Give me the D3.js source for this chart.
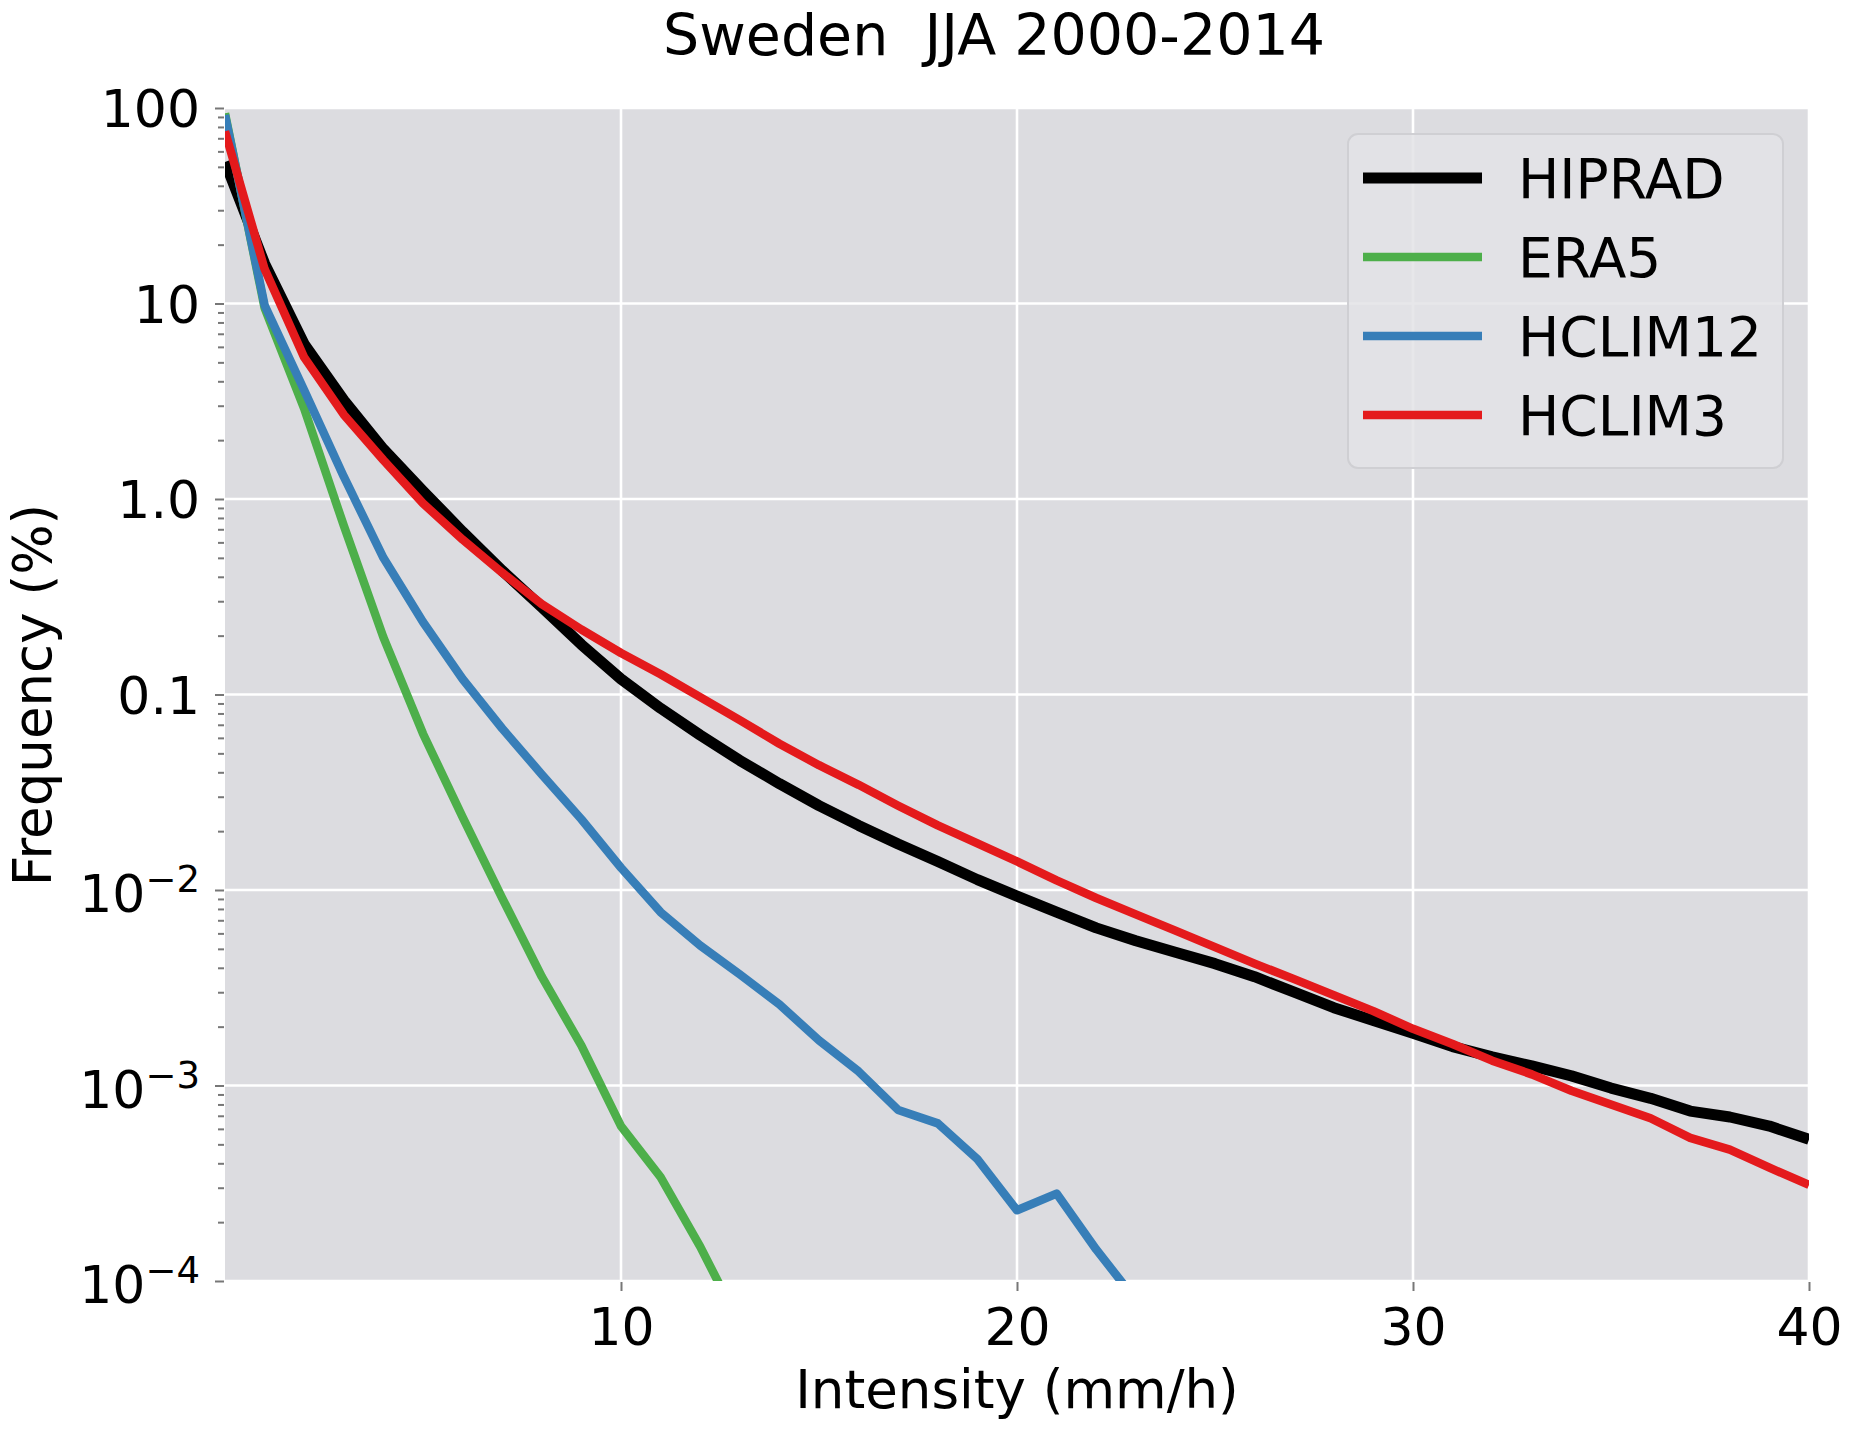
<!DOCTYPE html>
<html>
<head>
<meta charset="utf-8">
<script src="https://cdn.jsdelivr.net/npm/d3@7"></script>
<style>
  body { margin: 0; background: #fff; }
  svg { display: block; font-family: "DejaVu Sans", sans-serif; }
</style>
</head>
<body>
<svg id="chart" width="1850" height="1430"></svg>
<script>
// data (frequency in %, per 1 mm/h bin)
const intensity = [0, 1, 2, 3, 4, 5, 6, 7, 8, 9, 10, 11, 12, 13, 14, 15, 16, 17, 18, 19, 20,
  21, 22, 23, 24, 25, 26, 27, 28, 29, 30, 31, 32, 33, 34, 35, 36, 37, 38, 39, 40];

const hiprad = [53, 16, 6.2, 3.2, 1.8, 1.1, 0.68, 0.43, 0.28, 0.18, 0.12, 0.085, 0.062, 0.046,
  0.035, 0.027, 0.0214, 0.0172, 0.014, 0.0113, 0.0093, 0.0077, 0.0064, 0.0055, 0.0048, 0.0042,
  0.0036, 0.0030, 0.0025, 0.00215, 0.00185, 0.00158, 0.0014, 0.00126, 0.00112, 0.00097, 0.00086,
  0.00074, 0.00069, 0.00062, 0.00053];

const era5 = [94, 9.5, 2.9, 0.73, 0.196, 0.063, 0.0236, 0.0091, 0.0036, 0.0016, 0.00062,
  0.00034, 0.00015, 0.00006];

const hclim12 = [92, 9.8, 3.6, 1.3, 0.5, 0.235, 0.12, 0.067, 0.039, 0.023, 0.013, 0.0077,
  0.0052, 0.0037, 0.0026, 0.0017, 0.00118, 0.00075, 0.00064, 0.00042, 0.00023, 0.00028,
  0.000145, 0.00008];

const hclim3 = [76, 15, 5.3, 2.7, 1.58, 0.95, 0.62, 0.42, 0.29, 0.215, 0.163, 0.127, 0.097,
  0.074, 0.056, 0.0435, 0.0345, 0.027, 0.0214, 0.0173, 0.014, 0.0112, 0.0091, 0.0075, 0.0062,
  0.0051, 0.0042, 0.0035, 0.0029, 0.0024, 0.00195, 0.00163, 0.00134, 0.00114, 0.00094,
  0.0008, 0.00068, 0.00054, 0.00047, 0.00038, 0.00031];

const seriesNames = ["HIPRAD", "ERA5", "HCLIM12", "HCLIM3"];
const seriesColors = ["#000000", "#4daf4a", "#377eb8", "#e41a1c"];

const xTicks = [10, 20, 30, 40];
const yTicks = [100, 10, 1, 0.1, 0.01, 0.001, 0.0001];
const yTickBase = ["100", "10", "1.0", "0.1", "10", "10", "10"];
const yTickExp = ["", "", "", "", "\u22122", "\u22123", "\u22124"];

// layout
const plotLeft = 225, plotRight = 1809, plotTop = 108, plotBottom = 1281;

const svg = d3.select("#chart");

const x = d3.scaleLinear().domain([0, 40]).range([plotLeft, plotRight]);
const y = d3.scaleLog().domain([0.0001, 100]).range([plotBottom, plotTop]);

// panel
svg.append("rect")
  .attr("x", plotLeft).attr("y", plotTop)
  .attr("width", plotRight - plotLeft).attr("height", plotBottom - plotTop)
  .attr("fill", "#dcdce0");

svg.append("clipPath").attr("id", "plotclip")
  .append("rect")
  .attr("x", plotLeft).attr("y", plotTop)
  .attr("width", plotRight - plotLeft).attr("height", plotBottom - plotTop);

// grid
const grid = svg.append("g").attr("stroke", "#ffffff").attr("stroke-width", 2.6);
grid.selectAll(".gx").data(xTicks).enter().append("line")
  .attr("x1", (d) => x(d)).attr("x2", (d) => x(d))
  .attr("y1", plotTop).attr("y2", plotBottom);
grid.selectAll(".gy").data(yTicks).enter().append("line")
  .attr("x1", plotLeft).attr("x2", plotRight)
  .attr("y1", (d) => y(d)).attr("y2", (d) => y(d));

// axes (ticks only, labels drawn separately)
const minorTicks = y.ticks().filter((v) => !yTicks.includes(v));

const styleAxis = (g) => {
  g.select(".domain").remove();
  g.selectAll(".tick line").attr("stroke", "#777").attr("stroke-width", 2);
};

svg.append("g")
  .attr("transform", `translate(${plotLeft - 1},0)`)
  .call(d3.axisLeft(y).tickValues(yTicks).tickSize(9).tickFormat(""))
  .call(styleAxis);

svg.append("g")
  .attr("transform", `translate(${plotLeft - 1},0)`)
  .call(d3.axisLeft(y).tickValues(minorTicks).tickSize(6).tickFormat(""))
  .call(styleAxis);

const xAxis = svg.append("g")
  .attr("transform", `translate(0,${plotBottom + 1})`)
  .call(d3.axisBottom(x).tickValues(xTicks).tickSize(9).tickPadding(17).tickFormat((d) => d))
  .call(styleAxis);
xAxis.selectAll(".tick text")
  .attr("fill", "#000")
  .style("font-size", "52px")
  .style("font-family", "'DejaVu Sans', sans-serif");

// y tick labels with superscripts
const yLab = svg.append("g").attr("text-anchor", "end").attr("fill", "#000");
yTicks.forEach((v, i) => {
  const t = yLab.append("text")
    .attr("x", 200)
    .attr("y", y(v) + (yTickExp[i] ? 22 : 19))
    .style("font-size", "52px")
    .text(yTickBase[i]);
  if (yTickExp[i]) {
    t.append("tspan")
      .attr("dy", -20)
      .style("font-size", "37px")
      .text(yTickExp[i]);
  }
});

// lines
const line = d3.line()
  .x((d) => x(d[0]))
  .y((d) => y(d[1]));

const allSeries = [hiprad, era5, hclim12, hclim3];
const widths = [11, 8.5, 8.5, 8.5];

const lines = svg.append("g").attr("clip-path", "url(#plotclip)");
allSeries.forEach((vals, i) => {
  lines.append("path")
    .datum(vals.map((v, j) => [intensity[j], v]))
    .attr("fill", "none")
    .attr("stroke", seriesColors[i])
    .attr("stroke-width", widths[i])
    .attr("stroke-linejoin", "round")
    .attr("d", line);
});

// legend
const legend = svg.append("g");
legend.append("rect")
  .attr("x", 1348).attr("y", 134)
  .attr("width", 435).attr("height", 334)
  .attr("rx", 10)
  .attr("fill", "#e3e3e6").attr("fill-opacity", 0.85)
  .attr("stroke", "#cfcfd3").attr("stroke-width", 2);

seriesNames.forEach((name, i) => {
  const cy = 178 + i * 79;
  legend.append("line")
    .attr("x1", 1363).attr("x2", 1482)
    .attr("y1", cy).attr("y2", cy)
    .attr("stroke", seriesColors[i])
    .attr("stroke-width", widths[i]);
  legend.append("text")
    .attr("x", 1518).attr("y", cy + 20)
    .style("font-size", "55px")
    .text(name);
});

// titles
svg.append("text")
  .attr("x", 994).attr("y", 55)
  .attr("text-anchor", "middle")
  .style("font-size", "57px")
  .style("white-space", "pre")
  .text("Sweden  JJA 2000-2014");

svg.append("text")
  .attr("x", 1017).attr("y", 1408)
  .attr("text-anchor", "middle")
  .style("font-size", "53px")
  .text("Intensity (mm/h)");

svg.append("text")
  .attr("transform", "translate(51,695) rotate(-90)")
  .attr("text-anchor", "middle")
  .style("font-size", "53px")
  .text("Frequency (%)");
</script>
</body>
</html>
